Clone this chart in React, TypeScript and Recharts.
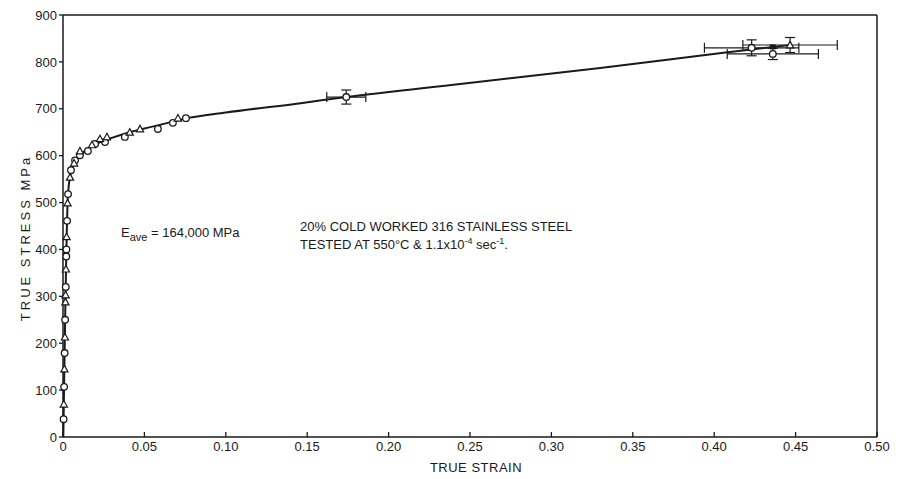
import { ComposedChart, ErrorBar, Line, ReferenceDot, Scatter, XAxis, YAxis } from 'recharts';

const ink = '#1a1a1a';
const font = '"Liberation Sans", Arial, sans-serif';

const xTicks = [0, 0.05, 0.1, 0.15, 0.2, 0.25, 0.3, 0.35, 0.4, 0.45, 0.5];
const yTicks = [0, 100, 200, 300, 400, 500, 600, 700, 800, 900];

// fitted curve through the data
const curveStrain = [0.0002, 0.0008, 0.0015, 0.0022, 0.0028, 0.0036, 0.005, 0.0075, 0.01, 0.015, 0.02, 0.03, 0.04, 0.05, 0.06, 0.075, 0.1, 0.146, 0.174, 0.244, 0.33, 0.407, 0.447];
const curveStress = [0, 140, 290, 420, 500, 538, 566, 589, 600, 614, 624, 638, 649, 658, 666, 679, 692, 712, 725, 753, 787, 820, 836];

// open circles
const circleStrain = [0.00037, 0.00069, 0.001, 0.0013, 0.0017, 0.002, 0.0021, 0.0025, 0.0031, 0.0049, 0.0074, 0.0104, 0.0153, 0.0197, 0.0258, 0.038, 0.0583, 0.0675, 0.0755];
const circleStress = [38, 107, 179, 250, 320, 385, 400, 461, 518, 569, 590, 601, 610, 625, 629, 640, 657, 670, 680];

// open triangles
const triangleStrain = [0.0005, 0.00086, 0.0012, 0.0015, 0.0016, 0.0018, 0.0022, 0.0028, 0.0043, 0.0068, 0.0104, 0.0178, 0.0227, 0.027, 0.041, 0.0473, 0.0706];
const triangleStress = [70, 145, 213, 288, 303, 358, 427, 499, 554, 584, 610, 623, 636, 640, 650, 657, 680];

// points with scatter bands
const errCircleStrain = [0.174, 0.423, 0.436];
const errCircleStress = [725, 830, 817];
const errCircleDx = [0.012, 0.029, 0.028];
const errCircleDy = [15, 17, 12];

const errTriangleStrain = [0.4466];
const errTriangleStress = [836];
const errTriangleDx = [0.029];
const errTriangleDy = [16];

const squareStrain = [0.436];
const squareStress = [832];

const zip = (xs: number[], ys: number[]) => xs.map((x, i) => ({ x, y: ys[i] }));

const curve = zip(curveStrain, curveStress);
const circles = zip(circleStrain, circleStress);
const triangles = zip(triangleStrain, triangleStress);
const errCircles = errCircleStrain.map((x, i) => ({ x, y: errCircleStress[i], ex: errCircleDx[i], ey: errCircleDy[i] }));
const errTriangles = errTriangleStrain.map((x, i) => ({ x, y: errTriangleStress[i], ex: errTriangleDx[i], ey: errTriangleDy[i] }));
const squares = zip(squareStrain, squareStress);

const OpenCircle = (p: any) => (
  <circle cx={p.cx} cy={p.cy} r={3.3} fill="#fff" stroke={ink} strokeWidth={1.3} />
);

const OpenTriangle = (p: any) => {
  const s = 3.6;
  return (
    <polygon
      points={`${p.cx},${p.cy - s} ${p.cx + s},${p.cy + s * 0.8} ${p.cx - s},${p.cy + s * 0.8}`}
      fill="#fff"
      stroke={ink}
      strokeWidth={1.2}
    />
  );
};

const FilledSquare = (p: any) => (
  <rect x={p.cx - 3} y={p.cy - 2.5} width={6} height={5} fill={ink} />
);

const textStyle = { fill: ink, fontFamily: font, fontSize: 13 };

const yTitle = (props: any) => {
  const vb = props.viewBox ?? { x: 0, y: 7, width: 55, height: 422 };
  const cx = vb.x + 17;
  const cy = vb.y + vb.height / 2 + 12;
  return (
    <text x={cx} y={cy} transform={`rotate(-90 ${cx} ${cy})`} textAnchor="middle" dominantBaseline="central" letterSpacing={3} {...textStyle}>
      TRUE STRESS MPa
    </text>
  );
};

const xTitle = (props: any) => {
  const vb = props.viewBox ?? { x: 55, y: 429, width: 814, height: 41 };
  return (
    <text x={vb.x + vb.width / 2 + 6} y={vb.y + 30} textAnchor="middle" dominantBaseline="central" letterSpacing={0.5} {...textStyle}>
      TRUE STRAIN
    </text>
  );
};

const modulusNote = (p: any) => (
  <text x={p.cx} y={p.cy} {...textStyle}>
    E<tspan dy={4} fontSize={11}>ave</tspan>
    <tspan dy={-4}> = 164,000 MPa</tspan>
  </text>
);

const materialNote = (p: any) => (
  <text x={p.cx} y={p.cy} {...textStyle}>
    20% COLD WORKED 316 STAINLESS STEEL
  </text>
);

const testNote = (p: any) => (
  <text x={p.cx} y={p.cy} {...textStyle}>
    TESTED AT 550°C &amp; 1.1x10<tspan dy={-5} fontSize={9}>-4</tspan>
    <tspan dy={5}> sec</tspan>
    <tspan dy={-5} fontSize={9}>-1</tspan>
    <tspan dy={5}>.</tspan>
  </text>
);

export default function App() {
  return (
    <ComposedChart width={892} height={470} margin={{ top: 0, right: 0, bottom: 0, left: 0 }} style={{ background: '#fff' }}>
      <XAxis
        dataKey="x"
        type="number"
        domain={[0, 0.5]}
        ticks={xTicks}
        interval={0}
        height={41}
        tickSize={-5}
        tickMargin={10}
        tickFormatter={(v: number) => (v === 0 ? '0' : v.toFixed(2))}
        tick={textStyle}
        axisLine={{ stroke: ink, strokeWidth: 1.5 }}
        tickLine={{ stroke: ink, strokeWidth: 1.3 }}
        label={xTitle}
      />
      <XAxis
        xAxisId="top"
        orientation="top"
        dataKey="x"
        type="number"
        domain={[0, 0.5]}
        ticks={xTicks}
        interval={0}
        height={7}
        tickSize={-4}
        tick={() => <g />}
        axisLine={{ stroke: ink, strokeWidth: 1.5 }}
        tickLine={{ stroke: ink, strokeWidth: 1.3 }}
      />
      <YAxis
        dataKey="y"
        type="number"
        domain={[0, 900]}
        ticks={yTicks}
        interval={0}
        width={55}
        tickSize={4}
        tick={textStyle}
        axisLine={{ stroke: ink, strokeWidth: 1.5 }}
        tickLine={{ stroke: ink, strokeWidth: 1.3 }}
        label={yTitle}
      />
      <YAxis
        yAxisId="right"
        orientation="right"
        dataKey="y"
        type="number"
        domain={[0, 900]}
        ticks={yTicks}
        interval={0}
        width={23}
        tickSize={-4}
        tick={() => <g />}
        axisLine={{ stroke: ink, strokeWidth: 1.5 }}
        tickLine={{ stroke: ink, strokeWidth: 1.3 }}
      />

      <Line data={curve} dataKey="y" type="monotone" dot={false} stroke={ink} strokeWidth={2} isAnimationActive={false} />

      <Scatter data={errCircles} shape={OpenCircle} isAnimationActive={false}>
        <ErrorBar dataKey="ex" direction="x" width={5} stroke={ink} strokeWidth={1.2} isAnimationActive={false} />
        <ErrorBar dataKey="ey" direction="y" width={5} stroke={ink} strokeWidth={1.2} isAnimationActive={false} />
      </Scatter>
      <Scatter data={errTriangles} shape={OpenTriangle} isAnimationActive={false}>
        <ErrorBar dataKey="ex" direction="x" width={5} stroke={ink} strokeWidth={1.2} isAnimationActive={false} />
        <ErrorBar dataKey="ey" direction="y" width={5} stroke={ink} strokeWidth={1.2} isAnimationActive={false} />
      </Scatter>
      <Scatter data={squares} shape={FilledSquare} isAnimationActive={false} />
      <Scatter data={circles} shape={OpenCircle} isAnimationActive={false} />
      <Scatter data={triangles} shape={OpenTriangle} isAnimationActive={false} />

      <ReferenceDot x={0.0356} y={426} shape={modulusNote} />
      <ReferenceDot x={0.1456} y={439} shape={materialNote} />
      <ReferenceDot x={0.1456} y={401} shape={testNote} />
    </ComposedChart>
  );
}
